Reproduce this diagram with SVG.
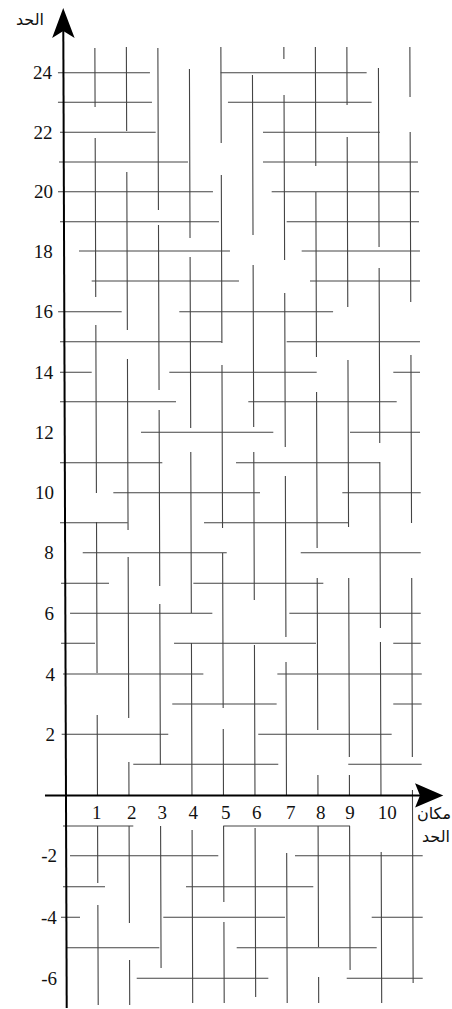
<svg xmlns="http://www.w3.org/2000/svg" width="452" height="1009" viewBox="0 0 452 1009">
<style>
.g{fill:none;stroke:#444;stroke-width:1.1}
.ax{fill:none;stroke:#000;stroke-width:2}
.num{font-family:"Liberation Serif",serif;font-size:19px;fill:#111}
.ar{font-family:"DejaVu Sans",sans-serif;font-size:16px;fill:#111}
</style>
<rect width="452" height="1009" fill="#fff"/>
<g transform="skewX(0.2)">
<g id="horizontals">
<path class="g" d="M57.7 72.7H149.7M220.4 72.7H366.4M57.6 102.3H151.6M227.6 102.3H371.3M59.5 132.3H155.2M262.5 132.3H379.5M58.4 162H187.4M262.4 162H417.4M57.3 191.7H212.3M271 191.7H418.3M59.2 221.7H218.2M285.9 221.7H418.2M78.1 251H229.1M300.8 251H419.1M90.7 281H238M309 281H419M57 311.7H120.6M178.2 311.7H332M58.8 341.7H220.5M285.5 341.7H418.8M58.7 372.3H90.4M168 372.3H315.4M392 372.3H418.7M58.6 401.7H174.6M246.9 401.7H395.3M139.5 432.3H271.8M348.5 432.3H418.5M58.4 462.7H160.7M234.4 462.7H378.4M111.6 492.7H258.3M340.6 492.7H419M58.2 522.7H125.9M202.2 522.7H346.5M80.8 552.7H224.8M298.8 552.7H418.8M59 583.3H107M191.3 583.3H321.3M67.9 613.3H210.2M287.2 613.3H418.6M58.8 643.3H92.8M171.8 643.3H313.8M391 643.3H418.5M60.7 674H201M275 674H419.4M169.8 704H274.2M390.8 704H419.2M59.1 734.3H165.7M255.7 734.3H389.1M130.6 764.3H275.6M345.6 764.3H419M60.1 826H130.4M220.4 826H347.1M67 855.7H215.3M292 855.7H419.7M59.9 886.7H101.9M182.9 886.7H310.2M57.8 917.3H76.8M160.1 917.3H281.8M368.5 917.3H419.5M63.4 947.7H156M233.4 947.7H373.4M133.3 978.3H264.9M343.3 978.3H419.3"/>
</g>
<g id="verticals">
<path class="g" d="M94.7 48V107M94.7 138V297M94.7 325V493M94.7 522V673M94.7 715V795M94.7 826V883M94.7 905V1005"/>
<path class="g" d="M126.2 47V131M126.2 172V330M126.2 359V530M126.2 557V718M126.2 762V795M126.2 826V923M126.2 960V1005"/>
<path class="g" d="M157.7 48V210M157.7 225V390M157.7 410V586M157.7 604V765M157.7 826V968"/>
<path class="g" d="M189.2 69V238M189.2 257V428M189.2 452V613M189.2 643V795M189.2 830V1003"/>
<path class="g" d="M220.7 47V143M220.7 175V343M220.7 365V528M220.7 553V708M220.7 729V795M220.7 826V902M220.7 922V1003"/>
<path class="g" d="M252.2 75V235M252.2 265V427M252.2 452V600M252.2 645V795M252.2 828V997"/>
<path class="g" d="M283.7 47V59M283.7 95V260M283.7 293V447M283.7 476V637M283.7 662V795M283.7 853V1003"/>
<path class="g" d="M315.2 47V166M315.2 192V357M315.2 392V548M315.2 578V730M315.2 775V795M315.2 826V947M315.2 977V1003"/>
<path class="g" d="M346.7 47V105M346.7 137V307M346.7 360V527M346.7 578V757M346.7 775V795M346.7 826V970"/>
<path class="g" d="M378.2 68V247M378.2 268V443M378.2 462V628M378.2 642V795M378.2 852V1003"/>
<path class="g" d="M409.7 47V97M409.7 132V302M409.7 355V523M409.7 578V757M409.7 790V983"/>
</g>
<g id="axes">
<path class="ax" d="M63.2 30V1008"/>
<path d="M63.2 8L74.5 38L63.2 31L52 38Z" fill="#000"/>
<path class="ax" d="M42.2 795.5H418"/>
<path d="M440.5 795.5L412.3 783.3L417.2 795.5L412.3 807.5Z" fill="#000"/>
</g>
</g>
<g id="y-labels" class="num" text-anchor="end">
<text x="52" y="79.4">24</text>
<text x="52.5" y="138.8">22</text>
<text x="53" y="198.3">20</text>
<text x="52.8" y="257.6">18</text>
<text x="53" y="318.3">16</text>
<text x="53.3" y="378.8">14</text>
<text x="53.8" y="438.9">12</text>
<text x="54" y="499.3">10</text>
<text x="53.8" y="559.3">8</text>
<text x="54" y="619.9">6</text>
<text x="55" y="680.6">4</text>
<text x="55" y="740.9">2</text>
<text x="57" y="862.3">-2</text>
<text x="56.8" y="923.9">-4</text>
<text x="57" y="984.9">-6</text>
</g>
<g id="x-labels" class="num" text-anchor="middle">
<text x="96.7" y="818.5">1</text>
<text x="131.7" y="818.5">2</text>
<text x="162.3" y="818.5">3</text>
<text x="193.3" y="818.5">4</text>
<text x="225.7" y="818.5">5</text>
<text x="256.7" y="818.5">6</text>
<text x="290.7" y="818.5">7</text>
<text x="320.7" y="818.5">8</text>
<text x="350" y="818.5">9</text>
<text x="387.3" y="818.5">10</text>
</g>
<g id="axis-titles" class="ar">
<text x="44" y="25" text-anchor="end">الحد</text>
<text x="451" y="819" text-anchor="end">مكان</text>
<text x="450" y="842" text-anchor="end">الحد</text>
</g>
</svg>
